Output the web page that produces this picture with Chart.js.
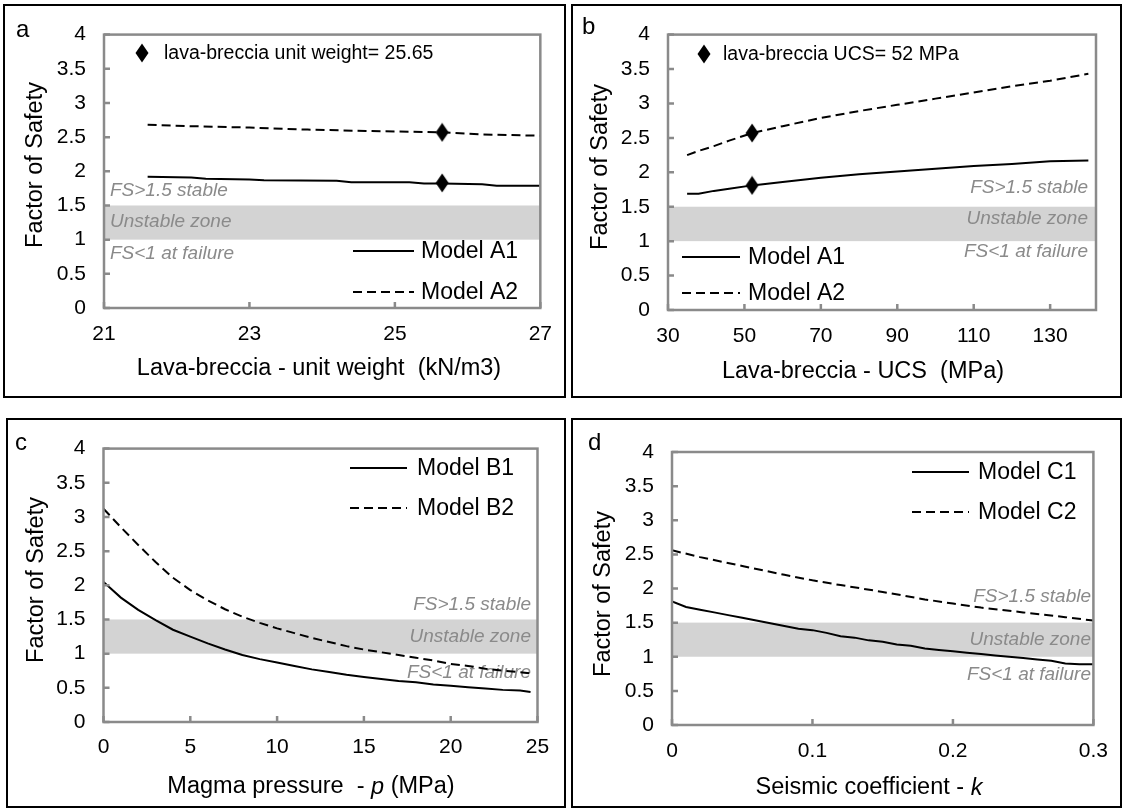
<!DOCTYPE html>
<html><head><meta charset="utf-8">
<script src="https://cdn.jsdelivr.net/npm/chart.js@4.4.1/dist/chart.umd.min.js"></script>
<style>
html,body{margin:0;padding:0;background:#fff;}
body{width:1123px;height:809px;position:relative;overflow:hidden;}
.panel{position:absolute;box-sizing:border-box;border:2px solid #000;pointer-events:none;}
canvas{position:absolute;}
</style></head><body>
<script>
// ---------- DATA ----------
const yTicks = [0,0.5,1,1.5,2,2.5,3,3.5,4];
// Panel a
const aTicksX = [21,23,25,27];
const aX1 = [21.6,22.2,22.4,23.0,23.2,24.2,24.4,25.2,25.4,25.65,26.2,26.4,27.0];
const aA1 = [1.92,1.91,1.89,1.88,1.87,1.86,1.84,1.84,1.82,1.82,1.81,1.79,1.79];
const aX2 = [21.6,22.2,23.0,23.8,24.6,25.65,26.2,27.0];
const aA2 = [2.68,2.66,2.64,2.61,2.59,2.57,2.54,2.52];
const aMarkX = [25.65,25.65];
const aMarkY = [1.83,2.57];
// Panel b
const bTicksX = [30,50,70,90,110,130];
const bX = [35,38,42,46,52,60,70,80,90,100,110,120,130,140];
const bA1 = [1.69,1.69,1.73,1.76,1.81,1.86,1.92,1.97,2.01,2.05,2.09,2.12,2.16,2.17];
const bA2 = [2.25,2.31,2.38,2.46,2.57,2.67,2.79,2.89,2.98,3.07,3.16,3.25,3.33,3.43];
const bMarkX = [52,52];
const bMarkY = [1.81,2.57];
// Panel c
const cTicksX = [0,5,10,15,20,25];
const cX = [0,1,2,3,4,5,6,7,8,9,10,11,12,13,14,15,16,17,18,19,20,21,22,23,24,24.6];
const cB1 = [2.05,1.82,1.64,1.49,1.35,1.25,1.15,1.06,0.98,0.92,0.87,0.82,0.77,0.73,0.69,0.66,0.63,0.6,0.58,0.55,0.53,0.51,0.49,0.47,0.46,0.44];
const cB2 = [3.12,2.85,2.59,2.34,2.11,1.93,1.78,1.65,1.54,1.45,1.37,1.3,1.23,1.17,1.11,1.06,1.02,0.98,0.94,0.9,0.85,0.82,0.78,0.75,0.73,0.71];
// Panel d
const dTicksX = [0,0.1,0.2,0.3];
const dX1 = [0,0.01,0.02,0.03,0.04,0.05,0.06,0.07,0.08,0.09,0.1,0.11,0.12,0.13,0.14,0.15,0.16,0.17,0.18,0.19,0.2,0.21,0.22,0.23,0.24,0.25,0.26,0.27,0.28,0.29,0.3];
const dC1 = [1.81,1.73,1.69,1.65,1.61,1.57,1.53,1.49,1.45,1.41,1.39,1.35,1.3,1.28,1.24,1.22,1.18,1.16,1.12,1.1,1.08,1.06,1.04,1.02,1.0,0.98,0.96,0.94,0.9,0.89,0.89];
const dX2 = [0,0.02,0.05,0.08,0.1,0.12,0.15,0.18,0.2,0.22,0.25,0.28,0.3];
const dC2 = [2.56,2.46,2.33,2.2,2.12,2.05,1.95,1.84,1.78,1.72,1.65,1.58,1.53];

// ---------- LAYOUT / STYLE ----------
const FONT = '"Liberation Sans", Arial, sans-serif';
const YW = 60, XH = 40;
const zoneTexts = ['FS>1.5 stable','Unstable zone','FS<1 at failure'];

function pts(xs, ys){ return xs.map((x,i)=>({x:x,y:ys[i]})); }

const diamond = document.createElement('canvas');
diamond.width = 14; diamond.height = 20;
(function(){const g=diamond.getContext('2d');g.fillStyle='#000';g.beginPath();g.moveTo(7,0.5);g.lineTo(13.5,10);g.lineTo(7,19.5);g.lineTo(0.5,10);g.closePath();g.fill();})();

const panels = [
 {letter:'a', box:[3,4,563,394], plot:[104,29,542,308], xMin:21, xMax:27, xTicks:aTicksX, tickPadX:14,
  lines:[{d:pts(aX1,aA1),dash:false,label:'Model A1'},{d:pts(aX2,aA2),dash:true,label:'Model A2'}],
  marks:pts(aMarkX,aMarkY), note:'lava-breccia unit weight= 25.65', notePos:[142,53,164],
  leg:{x1:353,x2:414,tx:421,y:[251,292]},
  zone:{align:'left',x:110,y:[191,222,254]},
  letterPos:[16,37], xTitle:[{t:'Lava-breccia - unit weight  (kN/m3)'}], xTitlePos:[319,369], yTitlePos:[36,165]},
 {letter:'b', box:[571,4,551,394], plot:[668,26,1096,310], xMin:30, xMax:142, xTicks:bTicksX, tickPadX:14,
  lines:[{d:pts(bX,bA1),dash:false,label:'Model A1'},{d:pts(bX,bA2),dash:true,label:'Model A2'}],
  marks:pts(bMarkX,bMarkY), note:'lava-breccia UCS= 52 MPa', notePos:[704,54,723],
  leg:{x1:682,x2:740,tx:748,y:[257,293]},
  zone:{align:'right',x:1088,y:[188,219,252]},
  letterPos:[582,34], xTitle:[{t:'Lava-breccia - UCS  (MPa)'}], xTitlePos:[863,372], yTitlePos:[601,167]},
 {letter:'c', box:[6,418,560,390], plot:[103.5,443,537.5,722], xMin:0, xMax:25, xTicks:cTicksX, tickPadX:13,
  lines:[{d:pts(cX,cB1),dash:false,label:'Model B1'},{d:pts(cX,cB2),dash:true,label:'Model B2'}],
  marks:null, leg:{x1:350,x2:407,tx:417,y:[468,508]},
  zone:{align:'right',x:531,y:[605,637,673]},
  letterPos:[15,450], xTitle:[{t:'Magma pressure  - '},{t:'p',i:true},{t:' (MPa)'}], xTitlePos:[311,787], yTitlePos:[37,580]},
 {letter:'d', box:[571,418,551,390], plot:[672,452,1099,725], xMin:0, xMax:0.3, xTicks:dTicksX, tickPadX:14,
  lines:[{d:pts(dX1,dC1),dash:false,label:'Model C1'},{d:pts(dX2,dC2),dash:true,label:'Model C2'}],
  marks:null, leg:{x1:912,x2:969,tx:978,y:[472,512]},
  zone:{align:'right',x:1091,y:[597,640,675]},
  letterPos:[588,450], xTitle:[{t:'Seismic coefficient - '},{t:'k',i:true}], xTitlePos:[869,788], yTitlePos:[604,594]}
];

const deco = {
  id:'deco',
  beforeDatasetsDraw(chart, args, o){
    const p = o.p; if(!p) return;
    const {ctx, chartArea:ca, scales:{y}} = chart;
    const ox = p.box[0], oy = p.box[1];
    ctx.save();
    ctx.fillStyle = '#d3d3d3';
    const y1 = y.getPixelForValue(1.5), y0 = y.getPixelForValue(1.0);
    ctx.fillRect(ca.left, y1, ca.right-ca.left, y0-y1);
    ctx.font = 'italic 19px ' + FONT;
    ctx.fillStyle = '#8a8a8a';
    ctx.textAlign = p.zone.align; ctx.textBaseline = 'middle';
    zoneTexts.forEach((t,i)=>ctx.fillText(t, p.zone.x-ox, p.zone.y[i]-oy));
    ctx.restore();
  },
  afterDatasetsDraw(chart, args, o){
    const p = o.p; if(!p) return;
    const {ctx, chartArea:ca, scales:{x,y}} = chart;
    const ox = p.box[0], oy = p.box[1];
    ctx.save();
    // plot border and inward ticks
    ctx.strokeStyle = '#8a8a8a'; ctx.lineWidth = 2.5;
    ctx.strokeRect(ca.left, ca.top, ca.right-ca.left, ca.bottom-ca.top);
    ctx.beginPath();
    yTicks.forEach(v=>{const py=y.getPixelForValue(v); ctx.moveTo(ca.left,py); ctx.lineTo(ca.left+6,py);});
    p.xTicks.forEach(v=>{const px=x.getPixelForValue(v); ctx.moveTo(px,ca.bottom); ctx.lineTo(px,ca.bottom-6);});
    ctx.stroke();
    // legend
    ctx.strokeStyle = '#000'; ctx.lineWidth = 2;
    ctx.font = '23px ' + FONT; ctx.fillStyle = '#000'; ctx.textAlign='left'; ctx.textBaseline='middle';
    p.lines.forEach((l,i)=>{
      const ly = p.leg.y[i]-oy;
      ctx.setLineDash(l.dash?[9,5]:[]);
      ctx.beginPath(); ctx.moveTo(p.leg.x1-ox, ly); ctx.lineTo(p.leg.x2-ox, ly); ctx.stroke();
      ctx.fillText(l.label, p.leg.tx-ox, ly+1);
    });
    ctx.setLineDash([]);
    // note with diamond
    if(p.note){
      ctx.drawImage(diamond, p.notePos[0]-ox-7, p.notePos[1]-oy-10);
      ctx.font = '19.5px ' + FONT;
      ctx.fillText(p.note, p.notePos[2]-ox, p.notePos[1]-oy+1);
    }
    // panel letter
    ctx.font = '24px ' + FONT; ctx.textBaseline='alphabetic';
    ctx.fillText(p.letter, p.letterPos[0]-ox, p.letterPos[1]-oy);
    // x title with mixed styles
    ctx.textBaseline='middle';
    const segs = p.xTitle;
    let tot = 0;
    segs.forEach(s=>{ctx.font=(s.i?'italic ':'')+'23.5px '+FONT; s.w=ctx.measureText(s.t).width; tot+=s.w;});
    let sx = p.xTitlePos[0]-ox-tot/2;
    segs.forEach(s=>{ctx.font=(s.i?'italic ':'')+'23.5px '+FONT; ctx.fillText(s.t, sx, p.xTitlePos[1]-oy); sx+=s.w;});
    // y title
    ctx.save();
    ctx.translate(p.yTitlePos[0]-ox, p.yTitlePos[1]-oy);
    ctx.rotate(-Math.PI/2);
    ctx.font = '23.5px ' + FONT; ctx.textAlign='center'; ctx.textBaseline='middle';
    ctx.fillText('Factor of Safety', 0, 0);
    ctx.restore();
    ctx.restore();
  }
};

panels.forEach(p=>{
  const [bx,by,bw,bh] = p.box;
  const cv = document.createElement('canvas');
  cv.width = bw; cv.height = bh;
  cv.style.left = bx+'px'; cv.style.top = by+'px';
  cv.style.width = bw+'px'; cv.style.height = bh+'px';
  document.body.appendChild(cv);
  const border = document.createElement('div');
  border.className='panel';
  border.style.left=bx+'px'; border.style.top=by+'px'; border.style.width=bw+'px'; border.style.height=bh+'px';
  document.body.appendChild(border);

  const datasets = p.lines.map(l=>({
    type:'line', data:l.d, borderColor:'#000', borderWidth:2, borderDash:l.dash?[9,5]:[],
    pointRadius:0, tension:0, fill:false
  }));
  if(p.marks){
    datasets.push({type:'scatter', data:p.marks, pointStyle:diamond, pointRadius:10, showLine:false,
      backgroundColor:'#000', borderColor:'#000'});
  }
  const tickFont = {family:FONT, size:21, lineHeight:1.2};
  new Chart(cv, {
    type:'line',
    data:{datasets},
    options:{
      responsive:false, animation:false, devicePixelRatio:1,
      layout:{padding:{
        left: p.plot[0]-bx-YW, top: p.plot[1]-by,
        right: bx+bw-p.plot[2], bottom: by+bh-p.plot[3]-XH}},
      scales:{
        x:{type:'linear', min:p.xMin, max:p.xMax,
          afterBuildTicks:s=>{s.ticks=p.xTicks.map(v=>({value:v}));},
          afterFit:s=>{s.height=XH;},
          grid:{display:false, drawTicks:false}, border:{display:false},
          ticks:{padding:p.tickPadX, font:tickFont, color:'#000', maxRotation:0, autoSkip:false,
            callback:v=>String(v)}},
        y:{type:'linear', min:0, max:4,
          afterBuildTicks:s=>{s.ticks=yTicks.map(v=>({value:v}));},
          afterFit:s=>{s.width=YW;},
          grid:{display:false, drawTicks:false}, border:{display:false},
          ticks:{padding:18, font:tickFont, color:'#000', autoSkip:false, callback:v=>String(v)}}
      },
      plugins:{legend:{display:false}, tooltip:{enabled:false}, deco:{p:p}}
    },
    plugins:[deco]
  });
});
</script>
</body></html>
